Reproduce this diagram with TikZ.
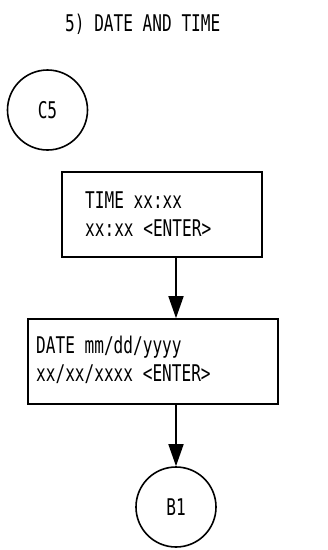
\documentclass[tikz,border=0pt]{standalone}
\usepackage{fontspec}
\newfontfamily\chartfont[FakeStretch=0.7]{DejaVu Sans Mono}
\usetikzlibrary{arrows.meta}
\begin{document}
\begin{tikzpicture}[x=1pt,y=-1pt,
  every node/.style={font=\chartfont\fontsize{23}{28}\selectfont, inner sep=0pt},
  boxline/.style={draw=black, line width=1.6pt},
  conn/.style={circle, draw=black, line width=1.6pt, minimum size=80pt},
  flow/.style={draw=black, line width=1.6pt, -{Triangle[length=22pt,width=15pt]}},
  txt/.style={anchor=base west}]
\useasboundingbox (0,0) rectangle (328,550);
\node[txt] (title) at (65,31) {5) DATE AND TIME};
\node[conn] (c5) at (47.5,110) {C5};
\node[boxline, minimum width=200pt, minimum height=85pt] (b1) at (162,214.5) {};
\node[txt] (t1a) at (85,208) {TIME xx:xx};
\node[txt] (t1b) at (85,236) {xx:xx <ENTER>};
\node[boxline, minimum width=250pt, minimum height=85pt] (b2) at (153,361.5) {};
\node[txt] (t2a) at (36,353) {DATE mm/dd/yyyy};
\node[txt] (t2b) at (36,381) {xx/xx/xxxx <ENTER>};
\node[conn] (bb1) at (176,507) {B1};
\draw[flow] (b1.south -| bb1) -- (b2.north -| bb1);
\draw[flow] (b2.south -| bb1) -- (bb1.north);
\end{tikzpicture}
\end{document}
